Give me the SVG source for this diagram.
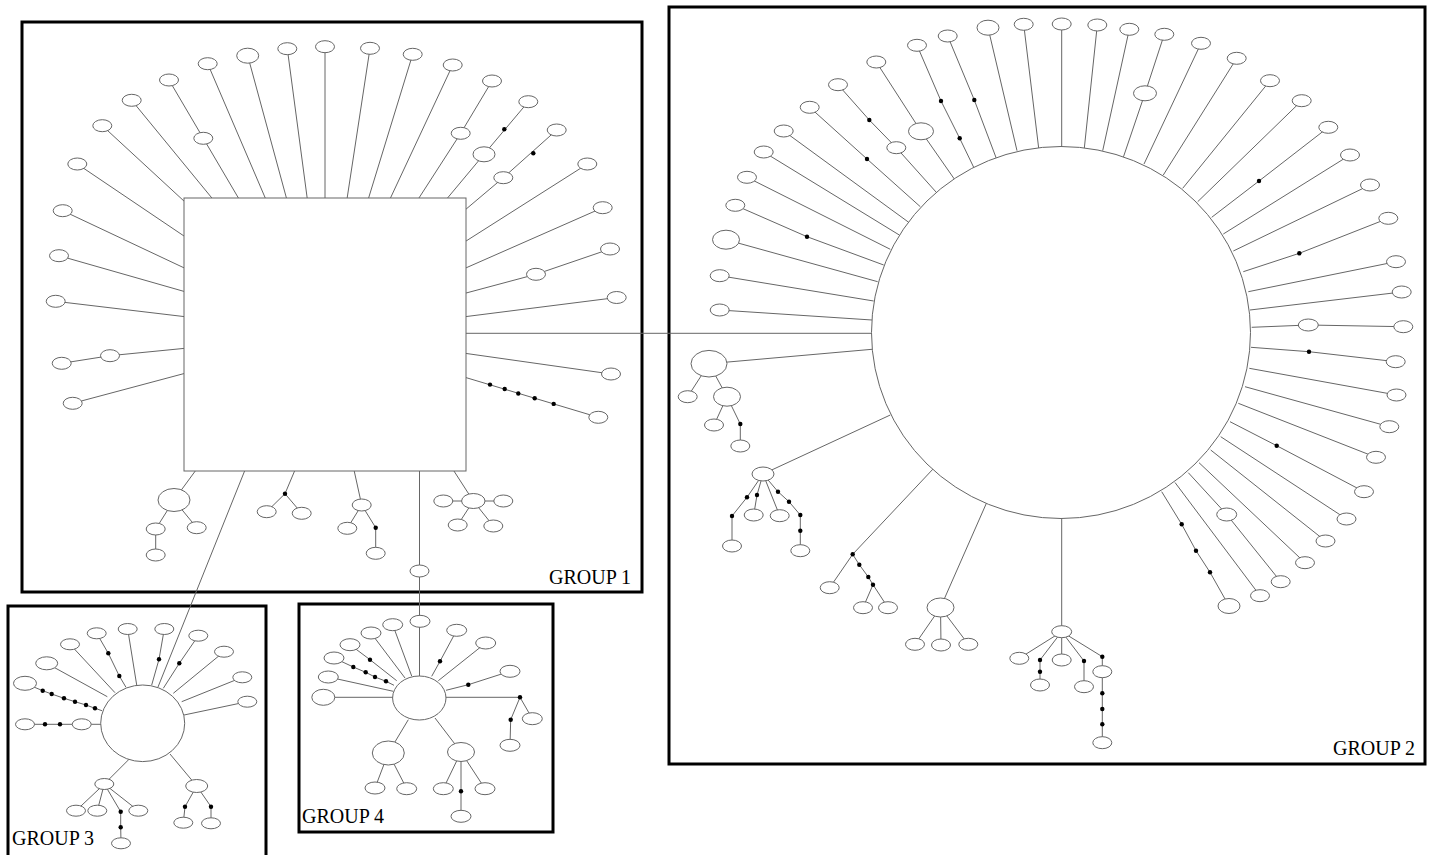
<svg xmlns="http://www.w3.org/2000/svg" width="1430" height="855" viewBox="0 0 1430 855">
<style>
.box{fill:none;stroke:#000;stroke-width:3}
#connectors polyline{fill:none;stroke:#666;stroke-width:1}
.node ellipse,.node rect{fill:#fff;stroke:#666;stroke-width:1}
.dot{fill:#000}
.lbl{font-family:"Liberation Serif","Times New Roman",serif;font-size:20px;fill:#000}
</style>
<rect width="1430" height="855" fill="#fff"/>
<g id="frames">
<rect class="box" x="22" y="22" width="620" height="570"/>
<rect class="box" x="669" y="7" width="756" height="757"/>
<rect class="box" x="8" y="606" width="258" height="252"/>
<rect class="box" x="299" y="604" width="254" height="228"/>
</g>
<g id="connectors">
<!-- group 1 -->
<polyline points="185,202 102.3,125.7"/>
<polyline points="185,236.7 77.3,164"/>
<polyline points="185,268.3 62.7,210.7"/>
<polyline points="185,291.7 59,255.7"/>
<polyline points="185,316.7 55.7,301.3"/>
<polyline points="185,348.3 110,355.7 61.7,363.3"/>
<polyline points="185,373.3 72.7,403.3"/>
<polyline points="212.7,199 131.7,100.3"/>
<polyline points="239,199 203.3,138.3 169,80"/>
<polyline points="265.7,199 207.7,63.7"/>
<polyline points="286.7,199 247.7,55.7"/>
<polyline points="307.3,199 287.3,48.7"/>
<polyline points="325,199 325,46.7"/>
<polyline points="347,199 370,48.3"/>
<polyline points="368.3,199 412.7,54.3"/>
<polyline points="390,199 452.7,65"/>
<polyline points="418.3,199 460.7,133.3 492,81"/>
<polyline points="446.7,199 484,154.3 528.3,101.7"/>
<polyline points="465,210 503.3,177.7 556.7,130"/>
<polyline points="465,241.7 587.3,164"/>
<polyline points="465,268.3 602.7,207.7"/>
<polyline points="465,293.3 536,274.3 610,249"/>
<polyline points="465,316.7 616.7,297.5"/>
<polyline points="465,333.3 872,333.3"/>
<polyline points="465,353.3 611,374"/>
<polyline points="465,377.3 598.3,417.3"/>
<polyline points="196,470 174,500 155.7,529 155.7,555"/>
<polyline points="174,500 196.7,527.7"/>
<polyline points="245,470 158,687"/>
<polyline points="295,470 285,493.7 266.7,511.7"/>
<polyline points="285,493.7 301.7,513.3"/>
<polyline points="354,470 361.7,505 347.3,528.3"/>
<polyline points="361.7,505 375.7,527.7 375.7,553.3"/>
<polyline points="419.5,470 419.5,677"/>
<polyline points="453.3,470 473.3,501"/>
<polyline points="443.3,501 503.3,501"/>
<polyline points="457.7,525 473.3,501 493.3,526"/>
<!-- group 2 -->
<polyline points="1038.7,148.3 1023.7,24.3"/>
<polyline points="1017,150.7 988,27.7"/>
<polyline points="996.3,158.3 974.3,100 947.7,36"/>
<polyline points="973.7,167.3 959.7,138.3 941,101 917,45.3"/>
<polyline points="954.3,179 921,131.3 876.3,62"/>
<polyline points="936.3,192.3 896.3,147.7 869.3,120 838,84.7"/>
<polyline points="920.3,206.7 867,159 809.7,107.3"/>
<polyline points="908.7,222.3 783.7,131"/>
<polyline points="899.3,235 763.7,152"/>
<polyline points="890.3,249.3 747,177.3"/>
<polyline points="883.7,265 807,236.7 735.3,205.3"/>
<polyline points="877.7,281.7 726,239.7"/>
<polyline points="873.7,301 719.7,275.7"/>
<polyline points="872,320 719.7,310"/>
<polyline points="872,349.3 709,363.7 687.7,396.7"/>
<polyline points="709,363.7 727,396.7 714,425"/>
<polyline points="727,396.7 740.3,424 740.3,446"/>
<polyline points="890.3,415 763,474 747,497.3 732,516 732,546"/>
<polyline points="763,474 757,495 753.7,515"/>
<polyline points="763,474 779.7,515.7"/>
<polyline points="763,474 778,491.7 789,501.7 800.3,515 800.3,550.7"/>
<polyline points="933.7,468.3 852.7,554.3 829.7,587.7"/>
<polyline points="852.7,554.3 859.3,564.7 868.3,577 873,584.7 863,607.7"/>
<polyline points="873,584.7 888,607.7"/>
<polyline points="986.5,503 940.5,607.5 915,644.3"/>
<polyline points="940.5,607.5 941,645"/>
<polyline points="940.5,607.5 968.3,644.3"/>
<polyline points="1061.7,518 1061.7,631.7 1019.3,658.3"/>
<polyline points="1061.7,631.7 1040,660 1040,685"/>
<polyline points="1061.7,631.7 1061.7,660"/>
<polyline points="1061.7,631.7 1084,661 1084,686.7"/>
<polyline points="1061.7,631.7 1102.3,656.7 1102.3,742.7"/>
<polyline points="1161.7,491.7 1181.7,524.3 1196,550.7 1210,572.3 1229,606"/>
<polyline points="1175,482.5 1260,595.7"/>
<polyline points="1188.3,472.7 1226.7,514.5 1280.7,581.7"/>
<polyline points="1199,462.7 1305,562.7"/>
<polyline points="1210.7,450 1325.5,541"/>
<polyline points="1220.7,436.7 1346.5,519"/>
<polyline points="1230,421.7 1276.7,445.7 1364,491.7"/>
<polyline points="1238.3,403.3 1376,457.3"/>
<polyline points="1245,386.7 1389.3,426.7"/>
<polyline points="1249.3,368.3 1396.5,395"/>
<polyline points="1251,347.3 1309,351.7 1395.7,361.7"/>
<polyline points="1251.7,327.3 1308.3,325 1403.3,326.7"/>
<polyline points="1250,310 1401.7,292"/>
<polyline points="1248.3,291.7 1396,261.7"/>
<polyline points="1243.3,271.7 1299.3,253.3 1388.3,218.3"/>
<polyline points="1233.3,251 1370,185"/>
<polyline points="1223.3,234 1350,155"/>
<polyline points="1211.7,217.3 1259,181 1328.3,127.3"/>
<polyline points="1197.7,201.7 1301.7,100.7"/>
<polyline points="1182.7,188.3 1270,80.7"/>
<polyline points="1163.3,175 1236.7,58.3"/>
<polyline points="1144,164 1201,43.3"/>
<polyline points="1123.3,157.3 1145,93.3 1164.3,34.3"/>
<polyline points="1102.7,150.7 1129.3,29.3"/>
<polyline points="1084.3,148.3 1097.3,25"/>
<polyline points="1061.7,147 1061.7,24"/>
<!-- group 3 -->
<polyline points="102,710.7 95,708.3 86,705 75,701.7 64,698.3 51.7,694 42.7,690.7 25,683.3"/>
<polyline points="102,724.3 25,724.3"/>
<polyline points="107.3,696.7 46.7,663.3"/>
<polyline points="115,692.7 70,644.3"/>
<polyline points="126,687.3 119.3,676 108.3,653.3 96.7,633.3"/>
<polyline points="136.7,685 127.7,629"/>
<polyline points="151.7,685 159,659.3 164.3,629"/>
<polyline points="163.3,688.3 179.3,663.3 198.3,635.7"/>
<polyline points="173.3,693.3 224,651.7"/>
<polyline points="181.7,701.7 242.3,677.3"/>
<polyline points="184,715 247.3,701.7"/>
<polyline points="130,758.3 104.3,784 76,810.7"/>
<polyline points="104.3,784 97.3,810.7"/>
<polyline points="104.3,784 138.3,810.7"/>
<polyline points="104.3,784 120.7,811.7 120.7,827.3 121,843.3"/>
<polyline points="170,754 196.7,786 185,806.7 183.3,822.7"/>
<polyline points="196.7,786 211,806.7 211,823.3"/>
<!-- group 4 -->
<polyline points="411.7,676 392.7,624.7"/>
<polyline points="405,678 371,633"/>
<polyline points="396.7,680.7 370,659.7 350,644.7"/>
<polyline points="394,685.3 386,681.3 375,677 365.7,672.3 353.3,667 334,658"/>
<polyline points="393.3,691.3 328.3,677"/>
<polyline points="393,697.3 323.3,697.3"/>
<polyline points="431.7,676.3 440,661.3 456.7,630.3"/>
<polyline points="438.3,680.7 485.7,643"/>
<polyline points="446,690.3 468.3,684.7 510,671.3"/>
<polyline points="445.5,697.3 520,697.3 532.3,718.7"/>
<polyline points="520,697.3 510.7,719.7 510,745.3"/>
<polyline points="408.3,719.7 388.3,753 375,788"/>
<polyline points="388.3,753 406.7,788.7"/>
<polyline points="435,718 461,752 443.3,788.7"/>
<polyline points="461,752 485,788.7"/>
<polyline points="461,752 461,816.3"/>
</g>
<g id="group1-nodes" class="node">
<g id="g1-hub"><rect x="184" y="198" width="282" height="273"/></g>
<g id="g1n1"><ellipse cx="102.3" cy="125.7" rx="9.5" ry="6"/></g>
<g id="g1n2"><ellipse cx="77.3" cy="164" rx="9.5" ry="6"/></g>
<g id="g1n3"><ellipse cx="62.7" cy="210.7" rx="9.5" ry="6"/></g>
<g id="g1n4"><ellipse cx="59" cy="255.7" rx="9.5" ry="6"/></g>
<g id="g1n5"><ellipse cx="55.7" cy="301.3" rx="9.5" ry="6"/></g>
<g id="g1n6"><ellipse cx="110" cy="355.7" rx="9.5" ry="6"/></g>
<g id="g1n7"><ellipse cx="61.7" cy="363.3" rx="9.5" ry="6"/></g>
<g id="g1n8"><ellipse cx="72.7" cy="403.3" rx="9.5" ry="6"/></g>
<g id="g1n9"><ellipse cx="131.7" cy="100.3" rx="9.5" ry="6"/></g>
<g id="g1n10"><ellipse cx="203.3" cy="138.3" rx="9.5" ry="6"/></g>
<g id="g1n11"><ellipse cx="169" cy="80" rx="9.5" ry="6"/></g>
<g id="g1n12"><ellipse cx="207.7" cy="63.7" rx="9.5" ry="6"/></g>
<g id="g1n13"><ellipse cx="247.7" cy="55.7" rx="11" ry="7.5"/></g>
<g id="g1n14"><ellipse cx="287.3" cy="48.7" rx="9.5" ry="6"/></g>
<g id="g1n15"><ellipse cx="325" cy="46.7" rx="9.5" ry="6"/></g>
<g id="g1n16"><ellipse cx="370" cy="48.3" rx="9.5" ry="6"/></g>
<g id="g1n17"><ellipse cx="412.7" cy="54.3" rx="9.5" ry="6"/></g>
<g id="g1n18"><ellipse cx="452.7" cy="65" rx="9.5" ry="6"/></g>
<g id="g1n19"><ellipse cx="460.7" cy="133.3" rx="9.5" ry="6"/></g>
<g id="g1n20"><ellipse cx="492" cy="81" rx="9.5" ry="6"/></g>
<g id="g1n21"><ellipse cx="484" cy="154.3" rx="11" ry="7.5"/></g>
<g id="g1n22"><ellipse cx="528.3" cy="101.7" rx="9.5" ry="6"/></g>
<g id="g1n23"><ellipse cx="503.3" cy="177.7" rx="9.5" ry="6"/></g>
<g id="g1n24"><ellipse cx="556.7" cy="130" rx="9.5" ry="6"/></g>
<g id="g1n25"><ellipse cx="587.3" cy="164" rx="9.5" ry="6"/></g>
<g id="g1n26"><ellipse cx="602.7" cy="207.7" rx="9.5" ry="6"/></g>
<g id="g1n27"><ellipse cx="536" cy="274.3" rx="9.5" ry="6"/></g>
<g id="g1n28"><ellipse cx="610" cy="249" rx="9.5" ry="6"/></g>
<g id="g1n29"><ellipse cx="616.7" cy="297.5" rx="9.5" ry="6"/></g>
<g id="g1n30"><ellipse cx="611" cy="374" rx="9.5" ry="6"/></g>
<g id="g1n31"><ellipse cx="598.3" cy="417.3" rx="9.5" ry="6"/></g>
<g id="g1n32"><ellipse cx="174" cy="500" rx="16" ry="11.5"/></g>
<g id="g1n33"><ellipse cx="155.7" cy="529" rx="9.5" ry="6"/></g>
<g id="g1n34"><ellipse cx="196.7" cy="527.7" rx="9.5" ry="6"/></g>
<g id="g1n35"><ellipse cx="155.7" cy="555" rx="9.5" ry="6"/></g>
<g id="g1n36"><ellipse cx="266.7" cy="511.7" rx="9.5" ry="6"/></g>
<g id="g1n37"><ellipse cx="301.7" cy="513.3" rx="9.5" ry="6"/></g>
<g id="g1n38"><ellipse cx="361.7" cy="505" rx="9.5" ry="6"/></g>
<g id="g1n39"><ellipse cx="347.3" cy="528.3" rx="9.5" ry="6"/></g>
<g id="g1n40"><ellipse cx="375.7" cy="553.3" rx="9.5" ry="6"/></g>
<g id="g1n41"><ellipse cx="473.3" cy="501" rx="11.7" ry="7.5"/></g>
<g id="g1n42"><ellipse cx="443.3" cy="501" rx="9.5" ry="6"/></g>
<g id="g1n43"><ellipse cx="503.3" cy="501" rx="9.5" ry="6"/></g>
<g id="g1n44"><ellipse cx="457.7" cy="525" rx="9.5" ry="6"/></g>
<g id="g1n45"><ellipse cx="493.3" cy="526" rx="9.5" ry="6"/></g>
<g id="g1n46"><ellipse cx="419.5" cy="571" rx="9.5" ry="6"/></g>
</g>
<g id="group2-nodes" class="node">
<g id="g2-hub"><ellipse cx="1061" cy="332.5" rx="189.5" ry="186"/></g>
<g id="g2n1"><ellipse cx="1023.7" cy="24.3" rx="9.5" ry="6"/></g>
<g id="g2n2"><ellipse cx="988" cy="27.7" rx="11" ry="7.5"/></g>
<g id="g2n3"><ellipse cx="947.7" cy="36" rx="9.5" ry="6"/></g>
<g id="g2n4"><ellipse cx="917" cy="45.3" rx="9.5" ry="6"/></g>
<g id="g2n5"><ellipse cx="876.3" cy="62" rx="9.5" ry="6"/></g>
<g id="g2n6"><ellipse cx="921" cy="131.3" rx="12.5" ry="8.5"/></g>
<g id="g2n7"><ellipse cx="838" cy="84.7" rx="9.5" ry="6"/></g>
<g id="g2n8"><ellipse cx="896.3" cy="147.7" rx="9.5" ry="6"/></g>
<g id="g2n9"><ellipse cx="809.7" cy="107.3" rx="9.5" ry="6"/></g>
<g id="g2n10"><ellipse cx="783.7" cy="131" rx="9.5" ry="6"/></g>
<g id="g2n11"><ellipse cx="763.7" cy="152" rx="9.5" ry="6"/></g>
<g id="g2n12"><ellipse cx="747" cy="177.3" rx="9.5" ry="6"/></g>
<g id="g2n13"><ellipse cx="735.3" cy="205.3" rx="9.5" ry="6"/></g>
<g id="g2n14"><ellipse cx="726" cy="239.7" rx="13.5" ry="9.5"/></g>
<g id="g2n15"><ellipse cx="719.7" cy="275.7" rx="9.5" ry="6"/></g>
<g id="g2n16"><ellipse cx="719.7" cy="310" rx="9.5" ry="6"/></g>
<g id="g2n17"><ellipse cx="709" cy="363.7" rx="18" ry="13.3"/></g>
<g id="g2n18"><ellipse cx="687.7" cy="396.7" rx="9.5" ry="6"/></g>
<g id="g2n19"><ellipse cx="727" cy="396.7" rx="13.5" ry="9.5"/></g>
<g id="g2n20"><ellipse cx="714" cy="425" rx="9.5" ry="6"/></g>
<g id="g2n21"><ellipse cx="740.3" cy="446" rx="9.5" ry="6"/></g>
<g id="g2n22"><ellipse cx="763" cy="474" rx="11" ry="7"/></g>
<g id="g2n23"><ellipse cx="732" cy="546" rx="9.5" ry="6"/></g>
<g id="g2n24"><ellipse cx="753.7" cy="515" rx="9.5" ry="6"/></g>
<g id="g2n25"><ellipse cx="779.7" cy="515.7" rx="9.5" ry="6"/></g>
<g id="g2n26"><ellipse cx="800.3" cy="550.7" rx="9.5" ry="6"/></g>
<g id="g2n27"><ellipse cx="829.7" cy="587.7" rx="9.5" ry="6"/></g>
<g id="g2n28"><ellipse cx="863" cy="607.7" rx="9.5" ry="6"/></g>
<g id="g2n29"><ellipse cx="888" cy="607.7" rx="9.5" ry="6"/></g>
<g id="g2n30"><ellipse cx="940.5" cy="607.5" rx="13.5" ry="9.5"/></g>
<g id="g2n31"><ellipse cx="915" cy="644.3" rx="9.5" ry="6"/></g>
<g id="g2n32"><ellipse cx="941" cy="645" rx="9.5" ry="6"/></g>
<g id="g2n33"><ellipse cx="968.3" cy="644.3" rx="9.5" ry="6"/></g>
<g id="g2n34"><ellipse cx="1061.7" cy="631.7" rx="10" ry="6"/></g>
<g id="g2n35"><ellipse cx="1019.3" cy="658.3" rx="9.5" ry="6"/></g>
<g id="g2n36"><ellipse cx="1040" cy="685" rx="9.5" ry="6"/></g>
<g id="g2n37"><ellipse cx="1061.7" cy="660" rx="9.5" ry="6"/></g>
<g id="g2n38"><ellipse cx="1084" cy="686.7" rx="9.5" ry="6"/></g>
<g id="g2n39"><ellipse cx="1102.3" cy="671.7" rx="9.5" ry="6"/></g>
<g id="g2n40"><ellipse cx="1102.3" cy="742.7" rx="9.5" ry="6"/></g>
<g id="g2n41"><ellipse cx="1229" cy="606" rx="11" ry="7.5"/></g>
<g id="g2n42"><ellipse cx="1260" cy="595.7" rx="9.5" ry="6"/></g>
<g id="g2n43"><ellipse cx="1226.7" cy="514.5" rx="10" ry="6.5"/></g>
<g id="g2n44"><ellipse cx="1280.7" cy="581.7" rx="9.5" ry="6"/></g>
<g id="g2n45"><ellipse cx="1305" cy="562.7" rx="9.5" ry="6"/></g>
<g id="g2n46"><ellipse cx="1325.5" cy="541" rx="9.5" ry="6"/></g>
<g id="g2n47"><ellipse cx="1346.5" cy="519" rx="9.5" ry="6"/></g>
<g id="g2n48"><ellipse cx="1364" cy="491.7" rx="9.5" ry="6"/></g>
<g id="g2n49"><ellipse cx="1376" cy="457.3" rx="9.5" ry="6"/></g>
<g id="g2n50"><ellipse cx="1389.3" cy="426.7" rx="9.5" ry="6"/></g>
<g id="g2n51"><ellipse cx="1396.5" cy="395" rx="9.5" ry="6"/></g>
<g id="g2n52"><ellipse cx="1395.7" cy="361.7" rx="9.5" ry="6"/></g>
<g id="g2n53"><ellipse cx="1308.3" cy="325" rx="10" ry="6"/></g>
<g id="g2n54"><ellipse cx="1403.3" cy="326.7" rx="9.5" ry="6"/></g>
<g id="g2n55"><ellipse cx="1401.7" cy="292" rx="9.5" ry="6"/></g>
<g id="g2n56"><ellipse cx="1396" cy="261.7" rx="9.5" ry="6"/></g>
<g id="g2n57"><ellipse cx="1388.3" cy="218.3" rx="9.5" ry="6"/></g>
<g id="g2n58"><ellipse cx="1370" cy="185" rx="9.5" ry="6"/></g>
<g id="g2n59"><ellipse cx="1350" cy="155" rx="9.5" ry="6"/></g>
<g id="g2n60"><ellipse cx="1328.3" cy="127.3" rx="9.5" ry="6"/></g>
<g id="g2n61"><ellipse cx="1301.7" cy="100.7" rx="9.5" ry="6"/></g>
<g id="g2n62"><ellipse cx="1270" cy="80.7" rx="9.5" ry="6"/></g>
<g id="g2n63"><ellipse cx="1236.7" cy="58.3" rx="9.5" ry="6"/></g>
<g id="g2n64"><ellipse cx="1201" cy="43.3" rx="9.5" ry="6"/></g>
<g id="g2n65"><ellipse cx="1145" cy="93.3" rx="11.5" ry="7.5"/></g>
<g id="g2n66"><ellipse cx="1164.3" cy="34.3" rx="9.5" ry="6"/></g>
<g id="g2n67"><ellipse cx="1129.3" cy="29.3" rx="9.5" ry="6"/></g>
<g id="g2n68"><ellipse cx="1097.3" cy="25" rx="9.5" ry="6"/></g>
<g id="g2n69"><ellipse cx="1061.7" cy="24" rx="9.5" ry="6"/></g>
</g>
<g id="group3-nodes" class="node">
<g id="g3-hub"><ellipse cx="142.7" cy="723.3" rx="42" ry="38.3"/></g>
<g id="g3n1"><ellipse cx="25" cy="683.3" rx="11.5" ry="7"/></g>
<g id="g3n2"><ellipse cx="25" cy="724.3" rx="9.5" ry="5.5"/></g>
<g id="g3n3"><ellipse cx="81.7" cy="724.3" rx="9.5" ry="5.5"/></g>
<g id="g3n4"><ellipse cx="46.7" cy="663.3" rx="11" ry="6.5"/></g>
<g id="g3n5"><ellipse cx="70" cy="644.3" rx="9.5" ry="5.5"/></g>
<g id="g3n6"><ellipse cx="96.7" cy="633.3" rx="9.5" ry="5.5"/></g>
<g id="g3n7"><ellipse cx="127.7" cy="629" rx="9.5" ry="5.5"/></g>
<g id="g3n8"><ellipse cx="164.3" cy="629" rx="9.5" ry="5.5"/></g>
<g id="g3n9"><ellipse cx="198.3" cy="635.7" rx="9.5" ry="5.5"/></g>
<g id="g3n10"><ellipse cx="224" cy="651.7" rx="9.5" ry="5.5"/></g>
<g id="g3n11"><ellipse cx="242.3" cy="677.3" rx="9.5" ry="5.5"/></g>
<g id="g3n12"><ellipse cx="247.3" cy="701.7" rx="9.5" ry="5.5"/></g>
<g id="g3n13"><ellipse cx="104.3" cy="784" rx="9.5" ry="5.5"/></g>
<g id="g3n14"><ellipse cx="76" cy="810.7" rx="9.5" ry="5.5"/></g>
<g id="g3n15"><ellipse cx="97.3" cy="810.7" rx="9.5" ry="5.5"/></g>
<g id="g3n16"><ellipse cx="138.3" cy="810.7" rx="9.5" ry="5.5"/></g>
<g id="g3n17"><ellipse cx="121" cy="843.3" rx="9.5" ry="5.5"/></g>
<g id="g3n18"><ellipse cx="196.7" cy="786" rx="11" ry="6.5"/></g>
<g id="g3n19"><ellipse cx="183.3" cy="822.7" rx="9.5" ry="5.5"/></g>
<g id="g3n20"><ellipse cx="211" cy="823.3" rx="9.5" ry="5.5"/></g>
</g>
<g id="group4-nodes" class="node">
<g id="g4-hub"><ellipse cx="419.3" cy="698" rx="26.7" ry="22"/></g>
<g id="g4n1"><ellipse cx="420" cy="621.3" rx="10" ry="6"/></g>
<g id="g4n2"><ellipse cx="392.7" cy="624.7" rx="10" ry="6"/></g>
<g id="g4n3"><ellipse cx="371" cy="633" rx="10" ry="6"/></g>
<g id="g4n4"><ellipse cx="350" cy="644.7" rx="10" ry="6"/></g>
<g id="g4n5"><ellipse cx="334" cy="658" rx="10" ry="6"/></g>
<g id="g4n6"><ellipse cx="328.3" cy="677" rx="10" ry="6"/></g>
<g id="g4n7"><ellipse cx="323.3" cy="697.3" rx="11.5" ry="8"/></g>
<g id="g4n8"><ellipse cx="456.7" cy="630.3" rx="10" ry="6"/></g>
<g id="g4n9"><ellipse cx="485.7" cy="643" rx="10" ry="6"/></g>
<g id="g4n10"><ellipse cx="510" cy="671.3" rx="10" ry="6"/></g>
<g id="g4n11"><ellipse cx="532.3" cy="718.7" rx="10" ry="6"/></g>
<g id="g4n12"><ellipse cx="510" cy="745.3" rx="10" ry="6"/></g>
<g id="g4n13"><ellipse cx="388.3" cy="753" rx="16" ry="12"/></g>
<g id="g4n14"><ellipse cx="375" cy="788" rx="10" ry="6"/></g>
<g id="g4n15"><ellipse cx="406.7" cy="788.7" rx="10" ry="6"/></g>
<g id="g4n16"><ellipse cx="461" cy="752" rx="13.5" ry="9.5"/></g>
<g id="g4n17"><ellipse cx="443.3" cy="788.7" rx="10" ry="6"/></g>
<g id="g4n18"><ellipse cx="485" cy="788.7" rx="10" ry="6"/></g>
<g id="g4n19"><ellipse cx="461" cy="816.3" rx="10" ry="6"/></g>
</g>
<g id="junctions" class="dot">
<circle cx="285" cy="493.7" r="2.2"/><circle cx="375.7" cy="527.7" r="2.2"/>
<circle cx="504.3" cy="129.3" r="2.2"/><circle cx="533.3" cy="153.3" r="2.2"/>
<circle cx="490" cy="384.6" r="2.2"/><circle cx="504.7" cy="389" r="2.2"/><circle cx="518.3" cy="393.5" r="2.2"/><circle cx="534.7" cy="398.2" r="2.2"/><circle cx="553.7" cy="403.9" r="2.2"/>
<circle cx="974.3" cy="100" r="2.2"/><circle cx="959.7" cy="138.3" r="2.2"/><circle cx="941" cy="101" r="2.2"/><circle cx="869.3" cy="120" r="2.2"/><circle cx="867" cy="159" r="2.2"/><circle cx="807" cy="236.7" r="2.2"/>
<circle cx="740.3" cy="424" r="2.2"/><circle cx="747" cy="497.3" r="2.2"/><circle cx="732" cy="516" r="2.2"/><circle cx="757" cy="495" r="2.2"/>
<circle cx="778" cy="491.7" r="2.2"/><circle cx="789" cy="501.7" r="2.2"/><circle cx="800.3" cy="515" r="2.2"/><circle cx="800.3" cy="530.7" r="2.2"/>
<circle cx="852.7" cy="554.3" r="2.2"/><circle cx="859.3" cy="564.7" r="2.2"/><circle cx="868.3" cy="577" r="2.2"/><circle cx="873" cy="584.7" r="2.2"/>
<circle cx="1040" cy="660" r="2.2"/><circle cx="1040" cy="671.7" r="2.2"/><circle cx="1084" cy="661" r="2.2"/><circle cx="1102.3" cy="656.7" r="2.2"/>
<circle cx="1102.3" cy="693.3" r="2.2"/><circle cx="1102.3" cy="709" r="2.2"/><circle cx="1102.3" cy="724.3" r="2.2"/>
<circle cx="1181.7" cy="524.3" r="2.2"/><circle cx="1196" cy="550.7" r="2.2"/><circle cx="1210" cy="572.3" r="2.2"/>
<circle cx="1276.7" cy="445.7" r="2.2"/><circle cx="1309" cy="351.7" r="2.2"/><circle cx="1299.3" cy="253.3" r="2.2"/><circle cx="1259" cy="181" r="2.2"/>
<circle cx="95" cy="708.3" r="2.2"/><circle cx="86" cy="705" r="2.2"/><circle cx="75" cy="701.7" r="2.2"/><circle cx="64" cy="698.3" r="2.2"/><circle cx="51.7" cy="694" r="2.2"/><circle cx="42.7" cy="690.7" r="2.2"/>
<circle cx="60" cy="724.3" r="2.2"/><circle cx="45" cy="724.3" r="2.2"/><circle cx="119.3" cy="676" r="2.2"/><circle cx="108.3" cy="653.3" r="2.2"/>
<circle cx="159" cy="659.3" r="2.2"/><circle cx="179.3" cy="663.3" r="2.2"/><circle cx="120.7" cy="811.7" r="2.2"/><circle cx="120.7" cy="827.3" r="2.2"/>
<circle cx="185" cy="806.7" r="2.2"/><circle cx="211" cy="806.7" r="2.2"/>
<circle cx="370" cy="659.7" r="2.2"/><circle cx="386" cy="681.3" r="2.2"/><circle cx="375" cy="677" r="2.2"/><circle cx="365.7" cy="672.3" r="2.2"/><circle cx="353.3" cy="667" r="2.2"/>
<circle cx="440" cy="661.3" r="2.2"/><circle cx="468.3" cy="684.7" r="2.2"/><circle cx="520" cy="697.3" r="2.2"/><circle cx="510.7" cy="719.7" r="2.2"/><circle cx="461" cy="791.3" r="2.2"/>
</g>
<g id="labels">
<text class="lbl" x="549" y="584">GROUP 1</text>
<text class="lbl" x="1333" y="755">GROUP 2</text>
<text class="lbl" x="12" y="845">GROUP 3</text>
<text class="lbl" x="302" y="823">GROUP 4</text>
</g>
</svg>
